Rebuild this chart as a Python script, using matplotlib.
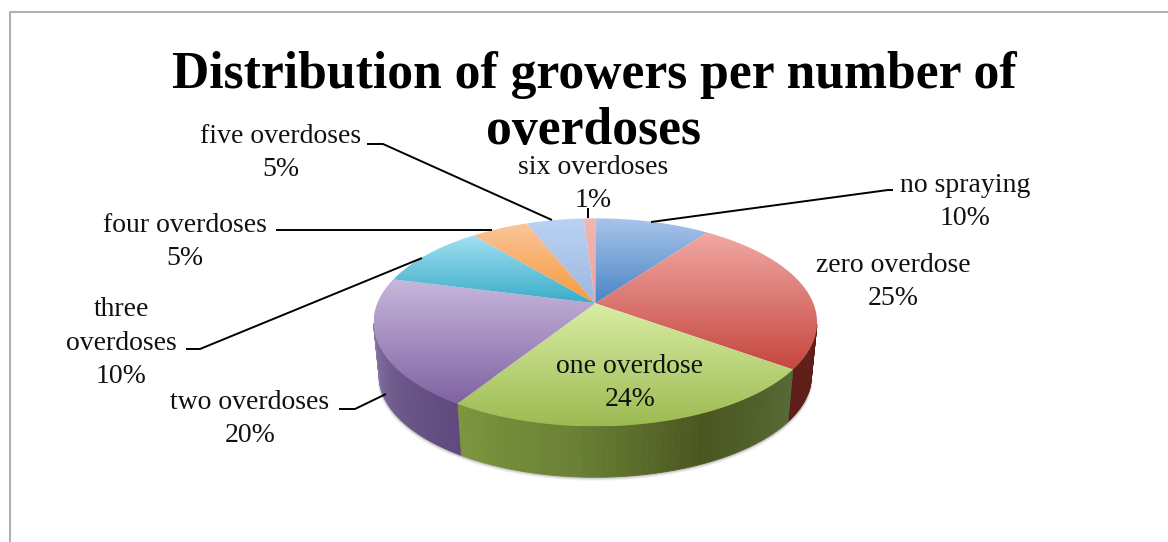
import numpy as np
import matplotlib
matplotlib.use("Agg")
import matplotlib.pyplot as plt
from matplotlib.colors import LinearSegmentedColormap
from matplotlib.patches import Polygon

categories = ["no spraying", "zero overdose", "one overdose", "two overdoses",
              "three\noverdoses", "four overdoses", "five overdoses", "six overdoses"]
values = [10, 25, 24, 20, 10, 5, 5, 1]
title_lines = ["Distribution of growers per number of", "overdoses"]

# light -> dark on the top face
top_colors = [("#a9c4ea", "#4a86c5"), ("#f2a9a5", "#c5473f"), ("#d9eda5", "#9dbb52"),
              ("#c8b7dc", "#7f62a2"), ("#a3e0f2", "#3aacc8"), ("#fac59a", "#f79a3e"),
              ("#bad2f5", "#9db8de"), ("#f2b6b3", "#eda5a2")]
# side wall colours, from the start of the slice to its end
side_colors = [("#3a5a80", "#3a5a80"), ("#5e1d16", "#5e1d16"),
               ("#566a35", "#4a5620", "#6a8035", "#7d963e"),
               [(0, "#60497e"), (0.35, "#6e5a8c"), (0.65, "#8a78a8"), (1, "#8a78a8")],
               ("#2a7f92", "#2a7f92"), ("#b56d2a", "#b56d2a"),
               ("#6f88a8", "#6f88a8"), ("#a87572", "#a87572")]

label_pos = [(965, 202), (893, 282), (630, 383), (250, 419), (121, 343), (185, 242), (281, 153), (593, 184)]
leaders = [[(651, 222), (888, 190), (893, 190)],
           None,
           None,
           [(339, 409), (355, 409), (386, 394)],
           [(186, 349), (200, 349), (422, 258)],
           [(276, 230), (492, 230)],
           [(367, 144), (383, 144), (552, 220)],
           [(588, 208), (588, 218)]]

CX, CY = 595.3, 303.3
A, B, K = 218.0, 100.5, 0.183  # perspective of the disc
DEPTH, SHRINK = 54.0, 0.975


def top_xy(theta):
    u, v = np.sin(theta), -np.cos(theta)
    d = 1 - K * v
    return CX + A * u / d, CY + B * v / d


def bottom_xy(theta):
    x, y = top_xy(theta)
    return CX + (x - CX) * SHRINK, CY + (y - CY) * SHRINK + DEPTH


fig = plt.figure(figsize=(11.68, 5.42), dpi=100)
ax = fig.add_axes([0, 0, 1, 1])
ax.set_xlim(0, 1168)
ax.set_ylim(542, 0)
ax.axis("off")

# chart frame, only left and top fall inside the crop
ax.plot([9.5, 9.5, 1168], [542, 11.5, 11.5], color="#b0b0b0", lw=1.5)

edges = np.cumsum([0] + values) / sum(values) * 2 * np.pi

# the wall is only seen between the two points where the rim turns back
t_start = np.arccos(-K)
t_end = 2 * np.pi - t_start

# soft shadow under the wall
all_t = np.linspace(t_start, t_end, 200)
for grow, a in [(3.5, 0.05), (2.5, 0.07), (1.5, 0.09), (0.7, 0.12)]:
    bx, by = bottom_xy(all_t)
    ax.fill(CX + (bx - CX) * (1 + 0.4 * grow / 222), by + grow, color="k", alpha=a, lw=0, zorder=1)

# side wall, strip by strip
for i in range(len(values)):
    t = np.linspace(edges[i], edges[i + 1], 60)
    t = t[(t >= t_start) & (t <= t_end)]
    if len(t) < 2:
        continue
    cmap = LinearSegmentedColormap.from_list("side", side_colors[i])
    for j in range(len(t) - 1):
        x1, y1 = top_xy(t[j:j + 2])
        x2, y2 = bottom_xy(t[j:j + 2])
        frac = (t[j] - edges[i]) / (edges[i + 1] - edges[i])
        pts = np.r_[np.c_[x1, y1], np.c_[x2, y2][::-1]]
        ax.add_patch(Polygon(pts, fc=cmap(frac), ec=cmap(frac), lw=0.5, zorder=2))

# top face, each slice gets a vertical gradient clipped to its outline
for i in range(len(values)):
    t = np.linspace(edges[i], edges[i + 1], 80)
    x, y = top_xy(t)
    pts = np.r_[[[CX, CY]], np.c_[x, y]]
    poly = Polygon(pts, fc="none", ec="none", zorder=3)
    ax.add_patch(poly)
    cmap = LinearSegmentedColormap.from_list("top", top_colors[i])
    grad = np.linspace(0, 1, 256).reshape(-1, 1)
    y0, y1 = pts[:, 1].min(), pts[:, 1].max()
    im = ax.imshow(grad, cmap=cmap, extent=(pts[:, 0].min(), pts[:, 0].max(), y1, y0),
                   aspect="auto", zorder=3, interpolation="bilinear")
    im.set_clip_path(poly)

ax.set_xlim(0, 1168)
ax.set_ylim(542, 0)

serif = "Liberation Serif"
for i, name in enumerate(categories):
    px, py = label_pos[i]
    ax.text(px, py, "%s\n%d%%" % (name, values[i]), ha="center", va="center",
            family=serif, fontsize=20, linespacing=1.45, color="#111111", zorder=6)
    if leaders[i]:
        lx, ly = zip(*leaders[i])
        ax.plot(lx, ly, color="k", lw=1.4, zorder=5, solid_capstyle="butt")

for line, ty in zip(title_lines, [75, 131]):
    ax.text(594, ty, line, ha="center", va="center", family=serif, fontsize=37.2,
            fontweight="bold", zorder=6)

fig.savefig("out.png", dpi=100)
